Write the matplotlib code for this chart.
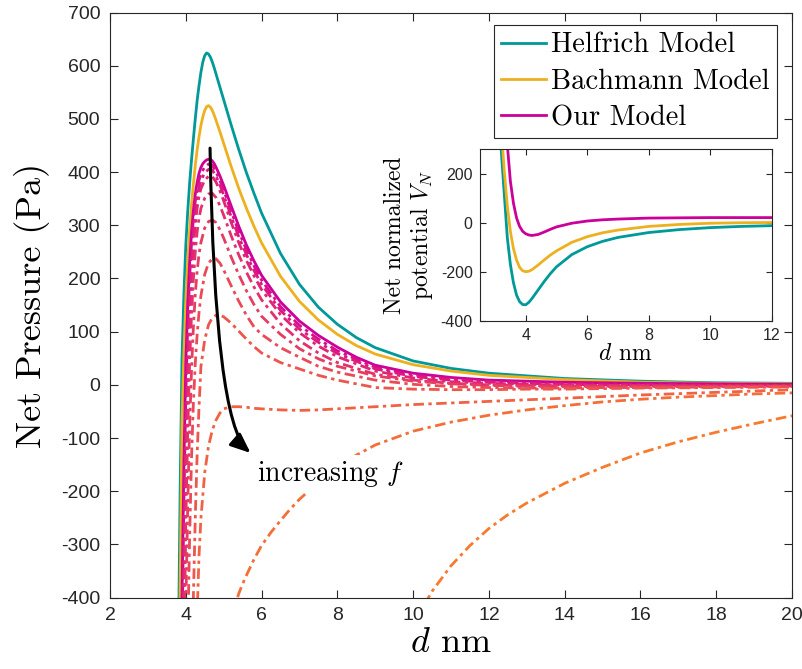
import numpy as np
import matplotlib
matplotlib.use("Agg")
import matplotlib.pyplot as plt

# ── data ──────────────────────────────────────────────────────────────────────

# main panel: net pressure (Pa) vs separation d (nm)
D_MODEL = [3.80, 3.85, 3.90, 3.95, 4.00, 4.05, 4.10, 4.15, 4.20, 4.25, 4.30, 4.35,
           4.40, 4.45, 4.50, 4.55, 4.60, 4.65, 4.70, 4.75, 4.80, 4.90, 5.00, 5.20,
           5.40, 5.60, 5.80, 6.00, 6.50, 7.00, 7.50, 8.00, 8.50, 9.00, 10.0, 11.0,
           12.0, 14.0, 16.0, 18.0, 20.0]
HELFRICH = [-530, -200, 50, 170, 262, 325, 378, 422, 462, 500, 535, 563,
            588, 607, 619, 624, 622, 616, 607, 596, 584, 560, 536, 488,
            442, 399, 360, 323, 247, 189, 146, 114, 89, 70, 45, 31,
            22, 12, 7, 4, 3]
BACHMANN = [-700, -390, -70, 60, 160, 232, 290, 337, 377, 412, 442, 467,
            488, 504, 516, 523, 525, 522, 516, 507, 497, 476, 454, 410,
            369, 332, 298, 267, 204, 157, 122, 95, 74, 58, 38, 26,
            18, 10, 5, 3, 2]
OUR = [-1000, -700, -400, -150, 40, 150, 228, 285, 327, 358, 381, 398,
       409, 416, 420, 423, 424, 424, 421, 416, 409, 393, 375, 336,
       298, 263, 233, 206, 156, 120, 93, 71, 52, 37, 22, 14,
       9, 5, 3, 2, 1]

# family of curves for increasing f (dash-dot)
nan = np.nan
D_FAM = [3.90, 3.95, 4.00, 4.05, 4.10, 4.15, 4.20, 4.25, 4.30, 4.35, 4.40, 4.50,
         4.60, 4.70, 4.80, 4.90, 5.00, 5.20, 5.40, 5.60, 5.80, 6.00, 6.50, 7.00,
         7.50, 8.00, 9.00, 10.0, 11.0, 12.0, 13.0, 14.0, 15.0, 16.0, 18.0, 20.0]
F1 = [-480, -220, -20, 110, 200, 265, 312, 345, 368, 385, 397, 410,
      415, 413, 400, 384, 366, 326, 288, 254, 224, 197, 147, 112,
      86, 64, 33, 19, 11, 7, 4, 3, 2, 1, 0, 0]
F2 = [-560, -300, -80, 60, 160, 232, 285, 325, 352, 371, 384, 399,
      405, 404, 392, 376, 357, 316, 278, 245, 215, 189, 140, 105,
      80, 59, 30, 16, 9, 5, 3, 1, 0, 0, -1, -1]
F3 = [-650, -380, -140, 10, 120, 200, 258, 302, 333, 355, 369, 385,
      392, 392, 381, 365, 346, 305, 267, 234, 205, 179, 132, 98,
      73, 53, 26, 13, 6, 3, 1, 0, -1, -1, -2, -2]
F4 = [-800, -520, -260, -90, 40, 130, 198, 250, 288, 314, 332, 351,
      359, 360, 352, 337, 319, 280, 244, 212, 184, 160, 115, 83,
      60, 42, 20, 9, 3, 0, -1, -2, -2, -2, -2, -2]
F5 = [nan, nan, -420, -230, -80, 25, 108, 170, 214, 246, 268, 295,
      307, 310, 305, 292, 276, 240, 207, 177, 151, 129, 95, 68,
      49, 35, 17, 7, 2, -1, -3, -3, -3, -3, -3, -2]
F6 = [nan, nan, nan, -480, -290, -140, -35, 40, 95, 137, 168, 208,
      229, 237, 237, 229, 216, 186, 157, 131, 109, 95, 70, 52,
      35, 24, 9, 1, -3, -5, -6, -6, -5, -5, -4, -3]
F7 = [nan, nan, nan, nan, -700, -540, -400, -250, -130, -40, 35, 85,
      113, 126, 131, 131, 128, 116, 101, 86, 72, 60, 42, 30,
      18, 9, -5, -8, -9, -9, -8, -8, -7, -6, -5, -4]
F8 = [nan, nan, nan, nan, nan, nan, -850, -600, -430, -320, -250, -165,
      -115, -85, -66, -53, -45, -41, -41, -42, -44, -45, -47, -48,
      -47, -45, -41, -37, -34, -31, -28, -25, -22, -19, -14, -9]
D_F9 = [5.2, 5.3, 5.4, 5.5, 5.6, 5.8, 6.0, 6.25, 6.5, 6.75, 7.0, 7.5, 8.0,
        8.5, 9.0, 10.0, 11.0, 12.0, 13.0, 14.0, 15.0, 16.0, 17.0, 18.0, 19.0, 20.0]
F9 = [-440, -414, -392, -374, -358, -328, -302, -277, -255, -234, -215, -183, -155,
      -132, -113, -87, -70, -57, -47, -39, -32, -27, -23, -20, -17, -15]
D_F10 = [10.0, 10.5, 11.0, 11.5, 12.0, 12.5, 13.0, 14.0, 15.0, 16.0, 17.0, 18.0,
         19.0, 20.0]
F10 = [-450, -388, -340, -302, -270, -244, -222, -185, -155, -128, -107, -89,
       -73, -58]
FAMILY = [(D_FAM, F1), (D_FAM, F2), (D_FAM, F3), (D_FAM, F4), (D_FAM, F5),
          (D_FAM, F6), (D_FAM, F7), (D_FAM, F8), (D_F9, F9), (D_F10, F10)]

# inset: net normalized potential V_N vs d (nm)
D_INSET = [3.10, 3.20, 3.30, 3.40, 3.50, 3.60, 3.70, 3.80, 3.90, 4.00, 4.10, 4.20,
           4.40, 4.60, 4.80, 5.00, 5.50, 6.00, 6.50, 7.00, 8.00, 9.00, 10.0, 11.0, 12.0]
V_HELFRICH = [480, 300, 120, -60, -170, -245, -295, -322, -334, -335, -325, -310,
              -275, -240, -208, -180, -130, -98, -76, -60, -40, -28, -20, -15, -12]
V_BACHMANN = [560, 390, 215, 70, -35, -105, -152, -182, -196, -200, -198, -192,
              -173, -152, -132, -115, -80, -57, -41, -30, -15, -7, -2, 0, 1]
V_OUR = [nan, nan, 560, 320, 170, 80, 20, -15, -35, -45, -50, -52,
         -48, -38, -27, -17, -2, 7, 12, 15, 19, 20, 21, 21, 21]

LABELS = ["Helfrich Model", "Bachmann Model", "Our Model"]

# ── style ──────────────────────────────────────────────────────────────────────

TEAL = "#009999"
GOLD = "#edb120"
MAGENTA = "#cc0099"
AXC = "#262626"
SERIF = "cmr10"

plt.rcParams.update({
    "font.family": ["Liberation Sans", "DejaVu Sans"],
    "mathtext.fontset": "cm",
    "axes.unicode_minus": False,
    "axes.linewidth": 0.8,
    "axes.edgecolor": AXC,
    "xtick.color": AXC,
    "ytick.color": AXC,
})

c0 = np.array([0.85, 0.05, 0.55])
c1 = np.array([0.97, 0.48, 0.18])
fam_colors = [tuple(c0 + (c1 - c0) * k / (len(FAMILY) - 1)) for k in range(len(FAMILY))]
DASHDOT = (0, (3.8, 1.6, 1.2, 1.6))

# ── main panel ─────────────────────────────────────────────────────────────────

fig = plt.figure(figsize=(8.03, 6.69), dpi=100)
ax = fig.add_axes([0.1370, 0.1066, 0.8493, 0.8747])

ax.plot(D_MODEL, HELFRICH, color=TEAL, lw=2.0, label=LABELS[0], zorder=2)
ax.plot(D_MODEL, BACHMANN, color=GOLD, lw=2.0, label=LABELS[1], zorder=2)
ax.plot(D_MODEL, OUR, color=MAGENTA, lw=2.0, label=LABELS[2], zorder=2)
for (xs, vals), col in zip(FAMILY, fam_colors):
    ax.plot(xs, vals, color=col, lw=2.0, linestyle=DASHDOT, zorder=2)

ax.set_xlim(2, 20)
ax.set_ylim(-400, 700)
ax.set_xticks(range(2, 21, 2))
ax.set_yticks(range(-400, 701, 100))
ax.tick_params(direction="in", top=True, right=True, length=6, width=0.8,
               labelsize=14, pad=7)
ax.set_xlabel(r"$d$ nm", fontsize=26, family=SERIF, labelpad=2)
ax.set_ylabel("Net Pressure (Pa)", fontsize=26, family=SERIF, labelpad=8)

# arrow + text
ax.annotate("", xy=(5.71, -128), xytext=(4.64, 445),
            arrowprops=dict(arrowstyle="-|>,head_length=0.6,head_width=0.25",
                            connectionstyle="angle3,angleA=-89,angleB=139",
                            color="black", lw=2.2, shrinkA=0, shrinkB=0,
                            mutation_scale=20),
            zorder=5)
ax.text(5.88, -167, "increasing $f$", fontsize=20, family=SERIF,
        ha="left", va="center", zorder=4,
        bbox=dict(facecolor="white", edgecolor="none", pad=3))

leg = ax.legend(loc="upper right", bbox_to_anchor=(0.978, 0.9786), borderaxespad=0,
                prop={"family": SERIF, "size": 20.5}, handlelength=1.55,
                handletextpad=0.2, labelspacing=0.35, borderpad=0.25,
                fancybox=False, edgecolor=AXC, framealpha=1)
leg.get_frame().set_linewidth(0.8)

# ── inset ──────────────────────────────────────────────────────────────────────

axi = fig.add_axes([0.5973, 0.5206, 0.3636, 0.2563])
axi.plot(D_INSET, V_HELFRICH, color=TEAL, lw=2.0)
axi.plot(D_INSET, V_BACHMANN, color=GOLD, lw=2.0)
axi.plot(D_INSET, V_OUR, color=MAGENTA, lw=2.0)
axi.set_xlim(2.5, 12)
axi.set_ylim(-400, 300)
axi.set_xticks([4, 6, 8, 10, 12])
axi.set_yticks([-400, -200, 0, 200])
axi.tick_params(direction="in", top=True, right=True, length=4, width=0.8,
                labelsize=11.5, pad=5)
axi.set_xlabel(r"$d$ nm", fontsize=17, family=SERIF, labelpad=0)
axi.set_ylabel("Net normalized\npotential $V_N$", fontsize=17, family=SERIF,
               labelpad=4, linespacing=1.1)

fig.savefig("out.png", dpi=100)
